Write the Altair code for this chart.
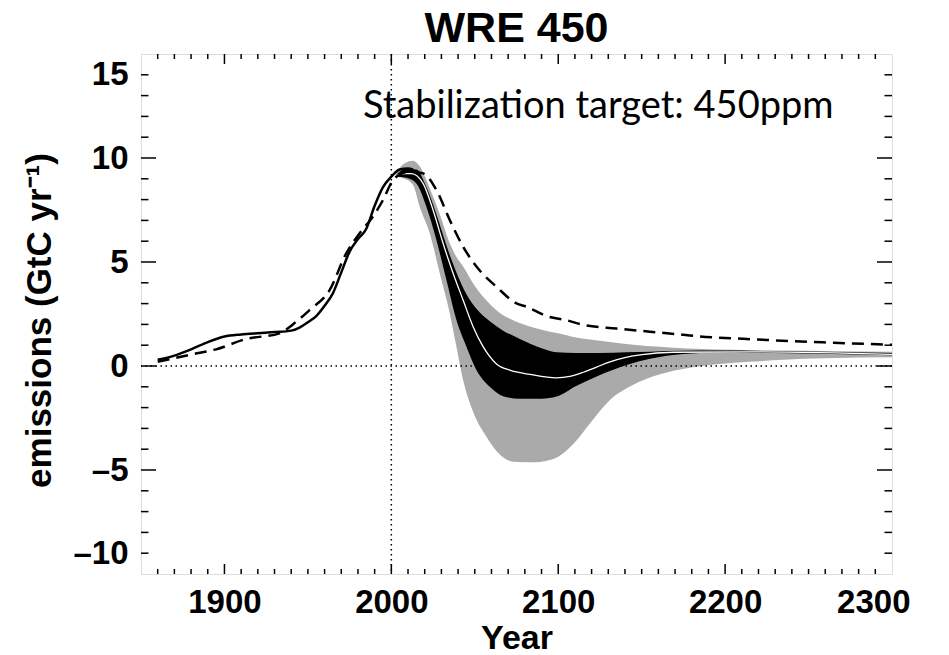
import altair as alt
import pandas as pd

# ---------------- data ----------------
hist_years = [1860, 1870, 1880, 1890, 1900, 1910, 1920, 1930, 1940, 1945, 1950, 1955,
              1960, 1965, 1970, 1975, 1980, 1985, 1990, 1995, 2000, 2005, 2010, 2013]
hist_vals = [0.30, 0.50, 0.80, 1.15, 1.42, 1.52, 1.58, 1.63, 1.70, 1.85, 2.10, 2.40,
             2.90, 3.50, 4.50, 5.50, 6.10, 6.60, 7.70, 8.60, 9.10, 9.45, 9.50, 9.45]

wre_years = [1860, 1880, 1895, 1913, 1933, 1941, 1951, 1963, 1973, 1981, 1989, 1995,
             2001, 2005, 2011, 2019, 2027, 2035, 2043, 2051, 2063, 2075, 2081, 2093,
             2105, 2115, 2135, 2155, 2175, 2185, 2213, 2225, 2265, 2300]
wre_vals = [0.20, 0.55, 0.80, 1.30, 1.57, 2.00, 2.69, 3.65, 5.42, 6.38, 7.18, 7.98,
            8.94, 9.20, 9.34, 9.26, 8.46, 7.02, 5.74, 4.78, 3.81, 3.01, 2.85, 2.40,
            2.20, 1.98, 1.80, 1.65, 1.50, 1.42, 1.30, 1.25, 1.12, 1.02]

outer_years = [2003, 2008, 2013, 2017, 2023, 2029, 2035, 2039, 2043, 2049, 2057, 2065,
               2073, 2085, 2095, 2100, 2109, 2119, 2131, 2145, 2161, 2177, 2195, 2215,
               2235, 2260, 2300]
outer_lo = [9.10, 9.00, 8.70, 7.66, 6.38, 4.46, 2.53, 0.93, -0.67, -2.20, -3.40, -4.25,
            -4.60, -4.63, -4.52, -4.36, -3.75, -2.76, -1.63, -0.90, -0.40, -0.11, 0.08, 0.20,
            0.30, 0.37, 0.42]
outer_hi = [9.30, 9.75, 9.87, 9.60, 8.55, 7.30, 5.90, 5.25, 4.78, 3.97, 3.15, 2.55,
            2.20, 1.85, 1.65, 1.57, 1.40, 1.27, 1.15, 1.02, 0.92, 0.84, 0.79, 0.76,
            0.74, 0.72, 0.68]

inner_years = [2003, 2009, 2015, 2021, 2027, 2033, 2039, 2045, 2051, 2059, 2067, 2077,
               2090, 2099, 2111, 2125, 2141, 2155, 2175, 2195, 2230, 2300]
inner_lo = [9.10, 9.05, 8.78, 7.66, 6.06, 4.13, 2.21, 0.93, -0.19, -1.00, -1.45, -1.57,
            -1.57, -1.47, -0.95, -0.43, 0.05, 0.35, 0.58, 0.64, 0.62, 0.52]
inner_hi = [9.20, 9.48, 9.45, 8.60, 7.30, 5.80, 4.50, 3.45, 2.75, 2.15, 1.70, 1.30,
            0.85, 0.66, 0.62, 0.62, 0.66, 0.69, 0.73, 0.74, 0.72, 0.62]

med_years = [2003, 2008, 2012, 2019, 2025, 2031, 2037, 2043, 2049, 2055, 2063, 2071,
             2083, 2099, 2107, 2115, 2123, 2131, 2140, 2149, 2169, 2215, 2300]
med_vals = [9.15, 9.25, 9.25, 8.78, 7.50, 5.90, 4.46, 3.17, 1.89, 0.93, 0.10, -0.20,
            -0.40, -0.57, -0.50, -0.30, -0.05, 0.20, 0.40, 0.53, 0.66, 0.68, 0.56]

x_major = [1900, 2000, 2100, 2200]
x_minor = [y for y in range(1860, 2300, 10) if y not in x_major]
y_major = [-5, 0, 5, 10]
y_minor = [v for v in range(-9, 15) if v not in y_major]
x_labels = [1900, 2000, 2100, 2200, 2300]
y_labels = [-10, -5, 0, 5, 10, 15]

note_text = ["Stabilization target: 450ppm"]
note_year = [1983]
note_val = [11.9]

ref_year = [2000]
ref_val = [0]

# ---------------- tables ----------------
df_hist = pd.DataFrame({"year": hist_years, "v": hist_vals})
df_wre = pd.DataFrame({"year": wre_years, "v": wre_vals})
df_outer = pd.DataFrame({"year": outer_years, "lo": outer_lo, "hi": outer_hi})
df_inner = pd.DataFrame({"year": inner_years, "lo": inner_lo, "hi": inner_hi})
df_med = pd.DataFrame({"year": med_years, "v": med_vals})
df_xmaj = pd.DataFrame({"year": x_major})
df_xmin = pd.DataFrame({"year": x_minor})
df_ymaj = pd.DataFrame({"v": y_major})
df_ymin = pd.DataFrame({"v": y_minor})
df_note = pd.DataFrame({"year": note_year, "v": note_val, "t": note_text})
df_vref = pd.DataFrame({"year": ref_year})
df_href = pd.DataFrame({"v": ref_val})

W, H = 751, 520
FONT = "Liberation Sans"

xscale = alt.Scale(domain=[1850, 2300], nice=False, zero=False)
yscale = alt.Scale(domain=[-10, 15], nice=False, zero=False)

xaxis = alt.Axis(values=x_labels, ticks=False, domain=False, grid=False, format="d",
                 labelFont=FONT, labelFontSize=33, labelFontWeight="bold", labelColor="black",
                 labelPadding=12, labelFlush=True, labelFlushOffset=18, labelOverlap=False,
                 title="Year", titleFont=FONT, titleFontSize=34, titleFontWeight="bold",
                 titleColor="black", titleY=74, titleBaseline="alphabetic")
yaxis = alt.Axis(values=y_labels, ticks=False, domain=False, grid=False,
                 labelExpr="datum.value < 0 ? '\u2013' + (-datum.value) : datum.label",
                 labelFont=FONT, labelFontSize=33, labelFontWeight="bold", labelColor="black",
                 labelPadding=13, labelFlush=True, labelFlushOffset=-4, labelOverlap=False,
                 title="emissions (GtC yr\u207b\u00b9)", titleFont=FONT, titleFontSize=35,
                 titleFontWeight="bold", titleColor="black", titleAngle=270,
                 titleX=-102, titleY=H / 2 + 6, titleAlign="center", titleBaseline="middle")


def X(field="year"):
    return alt.X(f"{field}:Q", scale=xscale, axis=xaxis)


def Y(field="v"):
    return alt.Y(f"{field}:Q", scale=yscale, axis=yaxis)


outer = alt.Chart(df_outer).mark_area(color="#aaaaaa", interpolate="monotone").encode(
    x=X(), y=Y("lo"), y2="hi:Q")
inner = alt.Chart(df_inner).mark_area(color="black", interpolate="monotone").encode(
    x=X(), y=Y("lo"), y2="hi:Q")
median = alt.Chart(df_med).mark_line(color="white", strokeWidth=1.3, interpolate="monotone").encode(
    x=X(), y=Y())
hist = alt.Chart(df_hist).mark_line(color="black", strokeWidth=2.5, interpolate="monotone").encode(
    x=X(), y=Y())
wre = alt.Chart(df_wre).mark_line(color="black", strokeWidth=2.5, strokeDash=[12, 7],
                                  interpolate="monotone").encode(x=X(), y=Y())
vref = alt.Chart(df_vref).mark_rule(color="black", strokeWidth=1.5, strokeDash=[1.5, 3.5]).encode(
    x=X())
href = alt.Chart(df_href).mark_rule(color="black", strokeWidth=1.5, strokeDash=[1.5, 3.5]).encode(
    y=Y())

tick_style = dict(color="black", strokeWidth=1.5)
xb_maj = alt.Chart(df_xmaj).mark_rule(**tick_style).encode(x=X(), y=alt.value(H), y2=alt.value(H - 10))
xb_min = alt.Chart(df_xmin).mark_rule(**tick_style).encode(x=X(), y=alt.value(H), y2=alt.value(H - 5))
xt_maj = alt.Chart(df_xmaj).mark_rule(**tick_style).encode(x=X(), y=alt.value(0), y2=alt.value(10))
xt_min = alt.Chart(df_xmin).mark_rule(**tick_style).encode(x=X(), y=alt.value(0), y2=alt.value(5))
yl_maj = alt.Chart(df_ymaj).mark_rule(**tick_style).encode(y=Y(), x=alt.value(0), x2=alt.value(15))
yl_min = alt.Chart(df_ymin).mark_rule(**tick_style).encode(y=Y(), x=alt.value(0), x2=alt.value(7.5))
yr_maj = alt.Chart(df_ymaj).mark_rule(**tick_style).encode(y=Y(), x=alt.value(W), x2=alt.value(W - 15))
yr_min = alt.Chart(df_ymin).mark_rule(**tick_style).encode(y=Y(), x=alt.value(W), x2=alt.value(W - 7.5))

note = alt.Chart(df_note).mark_text(font="Lato", fontSize=38, align="left", baseline="alphabetic",
                                    color="black").encode(x=X(), y=Y(), text="t:N")

chart = alt.layer(
    vref, outer, href, inner, median, hist, wre,
    xb_maj, xb_min, xt_maj, xt_min, yl_maj, yl_min, yr_maj, yr_min, note
).properties(
    width=W, height=H,
    title=alt.TitleParams("WRE 450", font=FONT, fontSize=43, fontWeight="bold", color="black",
                          anchor="middle", offset=2),
    autosize=alt.AutoSizeParams(type="none"),
    padding={"left": 133, "top": 46, "right": 49, "bottom": 80},
).configure_view(stroke="black", strokeWidth=2).configure(background="white")

chart.save("out.html", embed_options={"renderer": "svg", "actions": False})
